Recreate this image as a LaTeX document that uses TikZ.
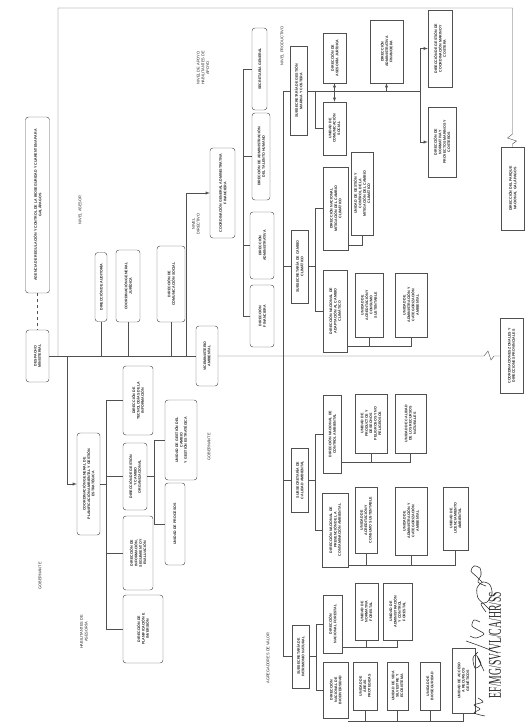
\documentclass[tikz,border=0pt]{standalone}
\usepackage{fontspec}
\setmainfont{Liberation Sans}
\newfontfamily\sigfont{Liberation Serif}
\usetikzlibrary{shapes,arrows,positioning,calc}
\definecolor{orgline}{HTML}{505050}
\definecolor{orgtext}{HTML}{262626}
\newcommand{\orgfont}{\fontsize{3.6}{4.4}\selectfont\bfseries}
\newcommand{\lblfont}{\fontsize{3.9}{4.7}\selectfont}

\begin{document}
\begin{tikzpicture}[x=1pt, y=-1pt,
    box/.style={draw=orgline, rectangle, rotate=90, align=center, inner sep=0.8pt, font=\orgfont, text=orgtext, line width=0.45pt},
    rbox/.style={box, rounded corners=3pt},
    lbl/.style={rotate=90, align=center, font=\lblfont, text=orgtext, inner sep=0pt},
    conn/.style={draw=orgline, line width=0.45pt},
    sig/.style={draw=orgtext, line width=0.55pt}]
  \useasboundingbox (0,0) rectangle (529,726);

  % nivel gobernante y asesor
  \node (despacho) [rbox, minimum width=52pt, minimum height=23pt] at (37.5,356) {DESPACHO\\MINISTERIAL};
  \node (agencia) [rbox, minimum width=176pt, minimum height=24pt] at (37.5,205) {AGENCIA DE REGULACIÓN Y CONTROL DE LA BIOSEGURIDAD Y CUARENTENA PARA\\GALÁPAGOS};
  \node (auditoria) [rbox, minimum width=69pt, minimum height=12pt] at (101,287) {DIRECCIÓN DE AUDITORÍA};
  \node (juridica) [rbox, minimum width=72pt, minimum height=24pt] at (128,286) {COORDINACIÓN GENERAL\\JURÍDICA};
  \node (comsocial) [rbox, minimum width=76pt, minimum height=28pt] at (171,284) {DIRECCIÓN DE\\COMUNICACIÓN SOCIAL};
  \node (vice) [rbox, minimum width=60pt, minimum height=22pt] at (207,356) {VICEMINISTERIO\\AMBIENTAL};

  % habilitantes de asesoria
  \node (cgpage) [rbox, minimum width=102pt, minimum height=23pt] at (88.5,484) {COORDINACIÓN GENERAL DE\\PLANIFICACIÓN AMBIENTAL Y GESTIÓN\\ESTRATÉGICA};
  \node (dti) [rbox, minimum width=69pt, minimum height=30pt] at (138,400.5) {DIRECCIÓN DE\\TECNOLOGÍAS DE LA\\INFORMACIÓN};
  \node (dgco) [rbox, minimum width=67pt, minimum height=24pt] at (135,476.5) {DIRECCIÓN DE GESTIÓN\\Y CAMBIO\\ORGANIZACIONAL};
  \node (dise) [rbox, minimum width=74pt, minimum height=30pt] at (138,553) {DIRECCIÓN DE\\INFORMACIÓN,\\SEGUIMIENTO Y\\EVALUACIÓN};
  \node (dpi) [rbox, minimum width=68pt, minimum height=40pt] at (143,629) {DIRECCIÓN DE\\PLANIFICACIÓN E\\INVERSIÓN};
  \node (ugc) [rbox, minimum width=80pt, minimum height=32pt] at (181,440) {UNIDAD DE GESTIÓN DEL\\CAMBIO\\Y GESTIÓN ESTRATÉGICA};
  \node (uproc) [rbox, minimum width=82pt, minimum height=20pt] at (175,524) {UNIDAD DE PROCESOS};

  % habilitantes de apoyo
  \node (cgaf) [rbox, minimum width=90pt, minimum height=25pt] at (222.5,193) {COORDINACIÓN GENERAL ADMINISTRATIVA\\FINANCIERA};
  \node (sg) [rbox, minimum width=82pt, minimum height=15pt] at (259.5,69) {SECRETARÍA GENERAL};
  \node (dath) [rbox, minimum width=87pt, minimum height=18pt] at (261,156.5) {DIRECCIÓN DE ADMINISTRACIÓN\\DEL TALENTO HUMANO};
  \node (dadm) [rbox, minimum width=67pt, minimum height=24pt] at (262,245.5) {DIRECCIÓN\\ADMINISTRATIVA};
  \node (dfin) [rbox, minimum width=62pt, minimum height=24pt] at (262,316) {DIRECCIÓN\\FINANCIERA};

  % nivel productivo: gestion marina y costera
  \node (sgmc) [box, minimum width=89pt, minimum height=17pt] at (298.5,91) {SUBSECRETARÍA DE GESTIÓN\\MARINA Y COSTERA};
  \node (daj) [box, minimum width=50pt, minimum height=23pt] at (334.5,58) {DIRECCIÓN DE\\ASESORÍA JURÍDICA};
  \node (ucs) [box, minimum width=53pt, minimum height=23pt] at (334.5,128.5) {UNIDAD DE\\COMUNICACIÓN\\SOCIAL};
  \node (daf) [box, minimum width=63pt, minimum height=33pt] at (386.5,51.5) {DIRECCIÓN\\ADMINISTRATIVA\\FINANCIERA};
  \node (dgcmc) [box, minimum width=77pt, minimum height=24pt] at (440,48.5) {DIRECCIÓN DE GESTIÓN DE\\COORDINACIÓN MARINO Y\\COSTERA};
  \node (dnpmc) [box, minimum width=70pt, minimum height=28pt] at (442,142) {DIRECCIÓN DE\\NORMATIVA Y\\PROYECTOS MARINOS Y\\COSTEROS};
  \node (dpng) [box, minimum width=83pt, minimum height=23pt] at (512.5,188.5) {DIRECCIÓN DEL PARQUE\\NACIONAL GALÁPAGOS};
  \node (czdp) [box, minimum width=75pt, minimum height=23pt] at (511.5,356) {COORDINACIONES ZONALES Y\\DIRECCIONES PROVINCIALES};

  % cambio climatico
  \node (scc) [box, minimum width=73pt, minimum height=17pt] at (299.5,266.5) {SUBSECRETARÍA DE CAMBIO\\CLIMÁTICO};
  \node (dnmcc) [box, minimum width=83pt, minimum height=25pt] at (335.5,208.5) {DIRECCIÓN NACIONAL\\MITIGACIÓN DEL CAMBIO\\CLIMÁTICO};
  \node (dnacc) [box, minimum width=82pt, minimum height=24pt] at (335,311) {DIRECCIÓN NACIONAL DE\\ADAPTACIÓN AL CAMBIO\\CLIMÁTICO};
  \node (ugcm) [box, minimum width=83pt, minimum height=22pt] at (362,193.5) {UNIDAD DE GESTIÓN Y\\CONTROL DE LA\\MITIGACIÓN DEL CAMBIO\\CLIMÁTICO};
  \node (uacsa) [box, minimum width=64pt, minimum height=28pt] at (369,305) {UNIDAD DE\\ACREDITACIÓN Y\\CONSUMO\\SUSTENTABLE};
  \node (uacaa) [box, minimum width=64pt, minimum height=32pt] at (411,305) {UNIDAD DE\\ADMINISTRACIÓN Y\\CATEGORIZACIÓN\\AMBIENTAL};

  % calidad ambiental
  \node (sca) [box, minimum width=64pt, minimum height=17pt] at (299.5,480) {SUBSECRETARÍA DE\\CALIDAD AMBIENTAL};
  \node (dnca) [box, minimum width=78pt, minimum height=18pt] at (332,434) {DIRECCIÓN NACIONAL DE\\CONTROL AMBIENTAL};
  \node (dnpca) [box, minimum width=74pt, minimum height=26pt] at (335,530) {DIRECCIÓN NACIONAL DE\\PREVENCIÓN DE LA\\CONTAMINACIÓN AMBIENTAL};
  \node (updp) [box, minimum width=59pt, minimum height=32pt] at (371,423.5) {UNIDAD DE\\PRODUCTOS Y\\DESECHOS\\PELIGROSOS Y NO\\PELIGROSOS};
  \node (ucrn) [box, minimum width=59pt, minimum height=31pt] at (410.5,423.5) {UNIDAD DE CALIDAD\\DE LOS RECURSOS\\NATURALES};
  \node (uacsb) [box, minimum width=66pt, minimum height=22pt] at (366,520) {UNIDAD DE\\ACREDITACIÓN Y\\CONSUMO SUSTENTABLE};
  \node (uacab) [box, minimum width=68pt, minimum height=32pt] at (411,521) {UNIDAD DE\\ADMINISTRACIÓN Y\\CATEGORIZACIÓN\\AMBIENTAL};
  \node (ula) [box, minimum width=63pt, minimum height=25pt] at (455.5,518.5) {UNIDAD DE\\LICENCIAMIENTO\\AMBIENTAL};

  % patrimonio natural
  \node (spn) [box, minimum width=63pt, minimum height=17pt] at (300.5,656.5) {SUBSECRETARÍA DE\\PATRIMONIO NATURAL};
  \node (dnf) [box, minimum width=58pt, minimum height=19pt] at (332.5,624) {DIRECCIÓN\\NACIONAL FORESTAL};
  \node (dnb) [box, minimum width=56pt, minimum height=25pt] at (335.5,690) {DIRECCIÓN\\NACIONAL DE\\BIODIVERSIDAD};
  \node (unf) [box, minimum width=57pt, minimum height=23pt] at (366.5,611.5) {UNIDAD DE\\NORMATIVA\\FORESTAL};
  \node (uacf) [box, minimum width=57pt, minimum height=29pt] at (397.5,611.5) {UNIDAD DE\\ADMINISTRACIÓN\\Y CONTROL\\FORESTAL};
  \node (uap) [box, minimum width=48pt, minimum height=24pt] at (365,686) {UNIDAD DE\\ÁREAS\\PROTEGIDAS};
  \node (uvse) [box, minimum width=48pt, minimum height=21pt] at (397.5,686) {UNIDAD DE VIDA\\SILVESTRE Y\\ECOSISTEMA};
  \node (ubio) [box, minimum width=48pt, minimum height=20pt] at (430,686) {UNIDAD DE\\BIOSEGURIDAD};
  \node (uarg) [box, minimum width=65pt, minimum height=23pt] at (463.5,680.5) {UNIDAD DE ACCESO\\A RECURSOS\\GENÉTICOS};

  % rotulos de niveles
  \node (lasesor) [lbl] at (80,210) {NIVEL ASESOR};
  \node (lapoyo) [lbl] at (203,68) {NIVEL DE APOYO\\HABILITANTES DE\\APOYO};
  \node (ldirectivo) [lbl] at (196,224) {NIVEL\\DIRECTIVO};
  \node (lproductivo) [lbl] at (282,46) {NIVEL PRODUCTIVO};
  \node (lgoba) [lbl] at (40,576) {GOBERNANTE};
  \node (lgobb) [lbl] at (209,447) {GOBERNANTE};
  \node (lhabil) [lbl] at (84,632) {HABILITANTES DE\\ASESORÍA};
  \node (lagreg) [lbl] at (268,658) {AGREGADORES DE VALOR};

  % puntos de union
  \coordinate (fr1) at (58,356);
  \coordinate (fr3) at (512.5,8);
  \coordinate (zz2) at (512.5,134);
  \coordinate (zz1) at (484,356);
  \coordinate (pl0) at (67,356);
  \coordinate (pl1) at (106,484);
  \coordinate (pl2) at (154,476);
  \coordinate (ad0) at (186,356);
  \coordinate (ad1) at (243,193);
  \coordinate (pr0) at (283,91);
  \coordinate (mc1) at (420,91);
  \coordinate (mc2) at (315,91);
  \coordinate (cc1) at (315,266.5);
  \coordinate (ca1) at (315,480);
  \coordinate (pn1) at (316,656.5);
  \coordinate (br1) at (348,245);
  \coordinate (br2) at (347,346);
  \coordinate (br3) at (341,462);
  \coordinate (br4) at (348,565);
  \coordinate (br5) at (342,647);
  \coordinate (br6) at (348,721);

  % lineas principales
  \draw [conn, dashed] (agencia) -- (despacho);
  \draw [conn] (despacho) -- (vice);
  \draw [conn] (vice) -- (zz1) -- ++(4,-5) -- ++(3,9) -- ++(3,-4) -- (czdp);
  \draw [conn] (fr1) |- (fr3) -- (zz2) -- ++(-5,4) -- ++(9,3) -- ++(-4,3) -- (dpng);
  \foreach \n in {auditoria,juridica,comsocial}
    \draw [conn] (\n) -- (\n |- fr1);

  % planificacion
  \draw [conn, -latex] (pl0) |- (cgpage);
  \draw [conn] (cgpage) -- (cgpage -| pl1);
  \draw [conn] (pl1 |- dti) -- (pl1 |- dpi);
  \foreach \n in {dti,dgco,dise,dpi}
    \draw [conn] (pl1 |- \n) -- (\n);
  \draw [conn] (dgco) -- (dgco -| pl2);
  \draw [conn] (pl2 |- ugc) -- (pl2 |- uproc);
  \foreach \n in {ugc,uproc}
    \draw [conn] (pl2 |- \n) -- (\n);

  % administrativa financiera
  \draw [conn, -latex] (ad0) |- (cgaf);
  \draw [conn] (ad1 |- sg) -- (ad1 |- dfin);
  \foreach \n in {sg,dath,dadm,dfin}
    \draw [conn] (ad1 |- \n) -- (\n);

  % nivel productivo
  \draw [conn] (pr0) -- (pr0 |- spn);
  \draw [conn] (pr0) -- (sgmc);
  \foreach \n in {scc,sca,spn}
    \draw [conn] (pr0 |- \n) -- (\n);
  \draw [conn] (sgmc) -- (mc1);
  \draw [conn, -latex] (daf |- mc1) -- (daf);
  \draw [conn, -latex] (mc1) |- (dgcmc);
  \draw [conn, -latex] (mc1) |- (dnpmc);
  \draw [conn, latex-latex] (daj) -- (ucs);
  \draw [conn] (mc2) |- (ucs);

  \draw [conn] (scc) -- (cc1);
  \draw [conn] (cc1 |- dnmcc) -- (cc1 |- dnacc);
  \foreach \n in {dnmcc,dnacc}
    \draw [conn] (cc1 |- \n) -- (\n);
  \draw [conn] (sca) -- (ca1);
  \draw [conn] (ca1 |- dnca) -- (ca1 |- dnpca);
  \foreach \n in {dnca,dnpca}
    \draw [conn] (ca1 |- \n) -- (\n);
  \draw [conn] (spn) -- (pn1);
  \draw [conn] (pn1 |- dnf) -- (pn1 |- dnb);
  \foreach \n in {dnf,dnb}
    \draw [conn] (pn1 |- \n) -- (\n);

  % unidades
  \draw [conn] (br1) -| (ugcm);
  \draw [conn] (br2) -| (uacaa);
  \draw [conn] (uacsa) -- (uacsa |- br2);
  \draw [conn] (br3) -| (ucrn);
  \draw [conn] (updp) -- (updp |- br3);
  \draw [conn] (br4) -| (ula);
  \foreach \n in {uacsb,uacab}
    \draw [conn] (\n) -- (\n |- br4);
  \draw [conn] (br5) -| (uacf);
  \draw [conn] (unf) -- (unf |- br5);
  \draw [conn] (br6) -| (uarg);
  \foreach \n in {uap,uvse,ubio}
    \draw [conn] (\n) -- (\n |- br6);

  % sumillas
  \node (firmas) [rotate=90, font=\sigfont\fontsize{18}{18}\selectfont, text=orgtext, inner sep=0pt] at (495,645) {\scalebox{0.54}[1]{EF/MG/SV/VL/CA/HR/SS}};
  \draw [sig] plot [smooth] coordinates {(482,582) (476,576) (471,571) (474,566) (480,568) (481,575) (478,582) (486,586)};
  \draw [sig] plot [smooth] coordinates {(490,610) (484,604) (478,598) (477,588) (483,582) (490,585) (492,594) (487,602) (481,604) (486,612)};
  \draw [sig] plot [smooth] coordinates {(480,622) (474,620) (472,626) (478,630) (484,634) (476,638) (470,636)};
  \draw [sig] plot [smooth] coordinates {(466,641) (480,646) (498,653)};
  \draw [sig] plot [smooth] coordinates {(478,652) (473,658) (475,668) (481,664) (477,656) (484,671)};
  \draw [sig] plot [smooth] coordinates {(485,716) (474,713) (480,709) (474,705) (483,702) (478,698)};
\end{tikzpicture}
\end{document}
